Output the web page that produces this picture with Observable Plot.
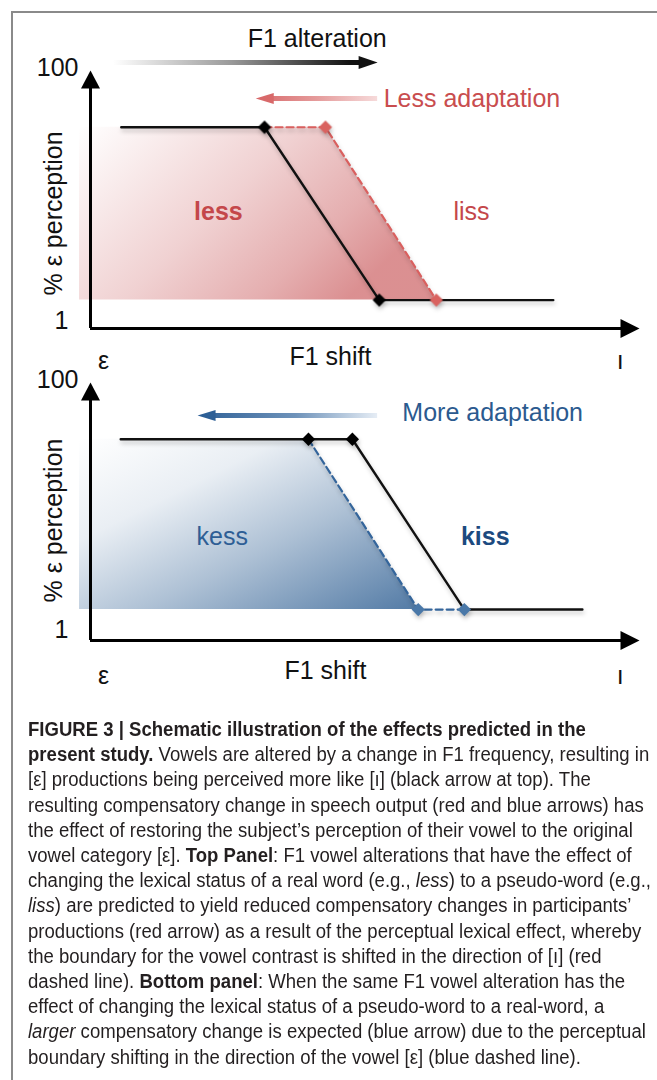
<!DOCTYPE html>
<html><head><meta charset="utf-8">
<script src="https://cdn.jsdelivr.net/npm/d3@7"></script>
<script src="https://cdn.jsdelivr.net/npm/@observablehq/plot@0.6"></script>
<style>
html,body{margin:0;padding:0;background:#fff;overflow:hidden;width:657px;height:1080px;}
#frame{position:absolute;left:11px;top:11px;width:700px;height:1100px;border-left:2px solid #8a8a8a;border-top:2px solid #8a8a8a;}
#top{position:absolute;left:0;top:0;}
#bottom{position:absolute;left:0;top:370px;}
#caption{position:absolute;left:28px;top:717px;font-family:"Liberation Sans Narrow","Arial Narrow","Liberation Sans",Arial,sans-serif;font-size:19.5px;line-height:25.2px;color:#231f20;white-space:nowrap;transform-origin:0 0;}
#caption span{display:inline-block;}
svg g[aria-label="line"], svg g[aria-label="dot"]{filter:drop-shadow(1px 3px 2px rgba(0,0,0,0.22));}
</style>
</head><body>
<div id="frame"></div>
<div id="top"></div>
<div id="bottom"></div>
<div id="caption">
<div><span><b>FIGURE 3 | Schematic illustration of the effects predicted in the</b></span></div>
<div><span><b>present study.</b> Vowels are altered by a change in F1 frequency, resulting in</span></div>
<div><span>[ε] productions being perceived more like [ı] (black arrow at top). The</span></div>
<div><span>resulting compensatory change in speech output (red and blue arrows) has</span></div>
<div><span>the effect of restoring the subject’s perception of their vowel to the original</span></div>
<div><span>vowel category [ε]. <b>Top Panel</b>: F1 vowel alterations that have the effect of</span></div>
<div><span id="refline">changing the lexical status of a real word (e.g., <i>less</i>) to a pseudo-word (e.g.,</span></div>
<div><span><i>liss</i>) are predicted to yield reduced compensatory changes in participants’</span></div>
<div><span>productions (red arrow) as a result of the perceptual lexical effect, whereby</span></div>
<div><span>the boundary for the vowel contrast is shifted in the direction of [ı] (red</span></div>
<div><span>dashed line). <b>Bottom panel</b>: When the same F1 vowel alteration has the</span></div>
<div><span>effect of changing the lexical status of a pseudo-word to a real-word, a</span></div>
<div><span><i>larger</i> compensatory change is expected (blue arrow) due to the perceptual</span></div>
<div><span>boundary shifting in the direction of the vowel [ε] (blue dashed line).</span></div>
</div>
<script>
// ---------------- data (schematic units: F1 shift 0..100, % ε perception 0..100) -------------
// Top panel: real word "less" -> pseudo-word "liss"
const topBoundaryX = [5.6, 31.7, 52.6, 84.3];
const topBoundaryY = [78, 78, 11, 11];
const topShiftedX = [31.7, 42.8, 63.0];
const topShiftedY = [78, 78, 11];
// Bottom panel: pseudo-word "kess" -> real word "kiss"
const botBoundaryX = [5.5, 39.7, 47.7, 68.1, 89.6];
const botBoundaryY = [78, 78, 78, 12, 12];
const botShiftedX = [39.7, 59.7, 68.1];
const botShiftedY = [78, 12, 12];
// labels
const yTickLabels = ["1", "100"];
const yTickValues = [3.5, 101];
const xEndLabels = ["ε", "ı"];
const xEndValues = [2.4, 96.5];
const xTitle = "F1 shift";
const yTitle = "% ε perception";
const topWords = ["less", "liss"];
const botWords = ["kess", "kiss"];
const topArrowLabel = "F1 alteration";
const topAdaptLabel = "Less adaptation";
const botAdaptLabel = "More adaptation";
// arrows: [tail, tip] in F1 units
const alterationArrow = [4.2, 52.3];
const lessAdaptArrow = [52.3, 30.1];
const moreAdaptArrow = [52.3, 19.5];

const FONT = "'Liberation Sans', Arial, Helvetica, sans-serif";
const pts = (xs, ys) => xs.map((x, i) => ({x, y: ys[i]}));

function tri(hw) {
  return {draw(ctx, l) { ctx.moveTo(-hw, 0); ctx.lineTo(0, -l); ctx.lineTo(hw, 0); ctx.closePath(); }};
}

function axisMarks(o) {
  return [
    Plot.ruleX([0], {y1: 0, y2: 97, stroke: "#000", strokeWidth: 3}),
    Plot.ruleY([0], {x1: 0, x2: 97, stroke: "#000", strokeWidth: 3}),
    Plot.vector([{x: 0, y: 100}], {x: "x", y: "y", rotate: 0, length: 18, anchor: "end", shape: tri(9.5), fill: "#000", stroke: "none"}),
    Plot.vector([{x: 100, y: 0}], {x: "x", y: "y", rotate: 90, length: 19, anchor: "end", shape: tri(9.5), fill: "#000", stroke: "none"}),
    Plot.text([yTickLabels[1]], {x: 0, y: yTickValues[1], text: d => d, dx: -12, textAnchor: "end", fontSize: 25, fill: "#111"}),
    Plot.text([yTickLabels[0]], {x: 0, y: yTickValues[0] + o.one, text: d => d, dx: -22, textAnchor: "end", fontSize: 25, fill: "#111"}),
    Plot.text([yTitle], {x: -6.6, y: o.title, text: d => d, rotate: -90, fontSize: 25, fill: "#111"}),
    Plot.text(xEndLabels, {x: (d, i) => xEndValues[i], y: o.xlab, text: d => d, fontSize: 25, fill: "#111", dy: 2}),
    Plot.text([xTitle], {x: o.xt, y: o.xlab + 0.8, text: d => d, fontSize: 25, fill: "#111"})
  ];
}

// ---------------- top panel ----------------
const topFill = [{x: -2, y: topShiftedY[1]}, {x: topShiftedX[1], y: topShiftedY[1]}, {x: topShiftedX[2], y: topShiftedY[2]}];
const topPlot = Plot.plot({
  width: 657, height: 370,
  marginLeft: 90, marginRight: 18, marginTop: 70, marginBottom: 42,
  x: {domain: [0, 100], axis: null},
  y: {domain: [0, 100], axis: null},
  style: {fontFamily: FONT, overflow: "visible", background: "transparent"},
  marks: [
    Plot.areaY(topFill, {x: "x", y1: topShiftedY[2], y2: "y", fill: "url(#redFill)", stroke: "none"}),
    ...axisMarks({one: -0.4, title: 44.6, xlab: -12, xt: 43.7}),
    Plot.line(pts(topBoundaryX, topBoundaryY), {x: "x", y: "y", stroke: "#111", strokeWidth: 2.4}),
    Plot.line(pts(topShiftedX, topShiftedY), {x: "x", y: "y", stroke: "#d9605f", strokeWidth: 2.2, strokeDasharray: "7,4"}),
    Plot.dot(pts(topShiftedX, topShiftedY).slice(1), {x: "x", y: "y", symbol: "diamond2", r: 6, fill: "#d9625f", stroke: "none"}),
    Plot.dot(pts(topBoundaryX, topBoundaryY).slice(1, 3), {x: "x", y: "y", symbol: "diamond2", r: 6, fill: "#000", stroke: "none"}),
    // F1 alteration arrow
    Plot.ruleY([103.1], {x1: alterationArrow[0], x2: alterationArrow[1] - 2, stroke: "url(#grayShaft)", strokeWidth: 5}),
    Plot.vector([{x: alterationArrow[1], y: 103.1}], {x: "x", y: "y", rotate: 90, length: 19, anchor: "end", shape: tri(6.5), fill: "#111", stroke: "none"}),
    Plot.text([topArrowLabel], {x: 41.3, y: 112.4, text: d => d, fontSize: 25, fill: "#111"}),
    // less adaptation arrow
    Plot.ruleY([89.1], {x1: lessAdaptArrow[0], x2: lessAdaptArrow[1] + 2, stroke: "url(#redShaft)", strokeWidth: 5}),
    Plot.vector([{x: lessAdaptArrow[1], y: 89.1}], {x: "x", y: "y", rotate: -90, length: 18, anchor: "end", shape: tri(5.5), fill: "#d8696a", stroke: "none"}),
    Plot.text([topAdaptLabel], {x: 53.4, y: 89.1, text: d => d, textAnchor: "start", fontSize: 25, fill: "#c94d4e"}),
    Plot.text([topWords[0]], {x: 23.3, y: 45, text: d => d, fontSize: 25, fill: "#c4474a", fontWeight: "bold"}),
    Plot.text([topWords[1]], {x: 69.4, y: 45, text: d => d, fontSize: 25, fill: "#c4474a"})
  ]
});

// ---------------- bottom panel ----------------
const botFill = [{x: -2, y: botShiftedY[0]}, {x: botShiftedX[0], y: botShiftedY[0]}, {x: botShiftedX[1], y: botShiftedY[1]}];
const botPlot = Plot.plot({
  width: 657, height: 320,
  marginLeft: 90, marginRight: 18, marginTop: 12, marginBottom: 50,
  x: {domain: [0, 100], axis: null},
  y: {domain: [0, 100], axis: null},
  style: {fontFamily: FONT, overflow: "visible", background: "transparent"},
  marks: [
    Plot.areaY(botFill, {x: "x", y1: botShiftedY[1], y2: "y", fill: "url(#blueFill)", stroke: "none"}),
    ...axisMarks({one: 0.4, title: 46.5, xlab: -12.8, xt: 42.8}),
    Plot.line(pts(botBoundaryX, botBoundaryY), {x: "x", y: "y", stroke: "#111", strokeWidth: 2.4}),
    Plot.line(pts(botShiftedX, botShiftedY), {x: "x", y: "y", stroke: "#34659b", strokeWidth: 2.2, strokeDasharray: "7,4"}),
    Plot.dot(pts(botShiftedX, botShiftedY).slice(1), {x: "x", y: "y", symbol: "diamond2", r: 6, fill: "#4a78a8", stroke: "none"}),
    Plot.dot(pts(botBoundaryX, botBoundaryY).slice(1, 3), {x: "x", y: "y", symbol: "diamond2", r: 6, fill: "#000", stroke: "none"}),
    Plot.ruleY([87.2], {x1: moreAdaptArrow[0], x2: moreAdaptArrow[1] + 2, stroke: "url(#blueShaft)", strokeWidth: 5}),
    Plot.vector([{x: moreAdaptArrow[1], y: 87.2}], {x: "x", y: "y", rotate: -90, length: 18, anchor: "end", shape: tri(5.5), fill: "#2d5f96", stroke: "none"}),
    Plot.text([botAdaptLabel], {x: 56.8, y: 88.0, text: d => d, textAnchor: "start", fontSize: 25, fill: "#2b5a8f"}),
    Plot.text([botWords[0]], {x: 24.0, y: 40.3, text: d => d, fontSize: 25, fill: "#2e5e95"}),
    Plot.text([botWords[1]], {x: 71.9, y: 40.3, text: d => d, fontSize: 25, fill: "#1c4a80", fontWeight: "bold"})
  ]
});

function addDefs(svg, html) {
  const defs = document.createElementNS("http://www.w3.org/2000/svg", "defs");
  defs.innerHTML = html;
  svg.insertBefore(defs, svg.firstChild);
}
const tx = topPlot.scale("x").apply, bx = botPlot.scale("x").apply;
addDefs(topPlot, `
  <linearGradient id="redFill" x1="0" y1="0" x2="1" y2="0.5">
    <stop offset="0" stop-color="#d27476" stop-opacity="0"/>
    <stop offset="0.15" stop-color="#d27476" stop-opacity="0.1"/>
    <stop offset="0.5" stop-color="#d27476" stop-opacity="0.33"/>
    <stop offset="0.8" stop-color="#d27476" stop-opacity="0.58"/>
    <stop offset="1" stop-color="#d27476" stop-opacity="0.8"/>
  </linearGradient>
  <linearGradient id="grayShaft" gradientUnits="userSpaceOnUse" x1="${tx(alterationArrow[0])}" y1="0" x2="${tx(alterationArrow[1])}" y2="0">
    <stop offset="0" stop-color="#fff"/>
    <stop offset="0.45" stop-color="#999"/>
    <stop offset="0.9" stop-color="#111"/>
    <stop offset="1" stop-color="#111"/>
  </linearGradient>
  <linearGradient id="redShaft" gradientUnits="userSpaceOnUse" x1="${tx(lessAdaptArrow[0])}" y1="0" x2="${tx(lessAdaptArrow[1])}" y2="0">
    <stop offset="0" stop-color="#f6dada"/>
    <stop offset="0.5" stop-color="#e59b9b"/>
    <stop offset="1" stop-color="#d8696a"/>
  </linearGradient>`);
addDefs(botPlot, `
  <linearGradient id="blueFill" x1="0" y1="0" x2="1" y2="1">
    <stop offset="0" stop-color="#4a74a1" stop-opacity="0"/>
    <stop offset="0.3" stop-color="#4a74a1" stop-opacity="0.12"/>
    <stop offset="0.6" stop-color="#4a74a1" stop-opacity="0.45"/>
    <stop offset="1" stop-color="#4a74a1" stop-opacity="0.95"/>
  </linearGradient>
  <linearGradient id="blueShaft" gradientUnits="userSpaceOnUse" x1="${bx(moreAdaptArrow[0])}" y1="0" x2="${bx(moreAdaptArrow[1])}" y2="0">
    <stop offset="0" stop-color="#e6edf5"/>
    <stop offset="0.45" stop-color="#6f93ba"/>
    <stop offset="1" stop-color="#2d5f96"/>
  </linearGradient>`);

document.getElementById("top").appendChild(topPlot);
document.getElementById("bottom").appendChild(botPlot);

// fit caption width to the reference column
const cap = document.getElementById("caption");
const ref = document.getElementById("refline");
const w = ref.getBoundingClientRect().width;
if (w > 0) cap.style.transform = `scaleX(${623 / w})`;
</script>
</body></html>
